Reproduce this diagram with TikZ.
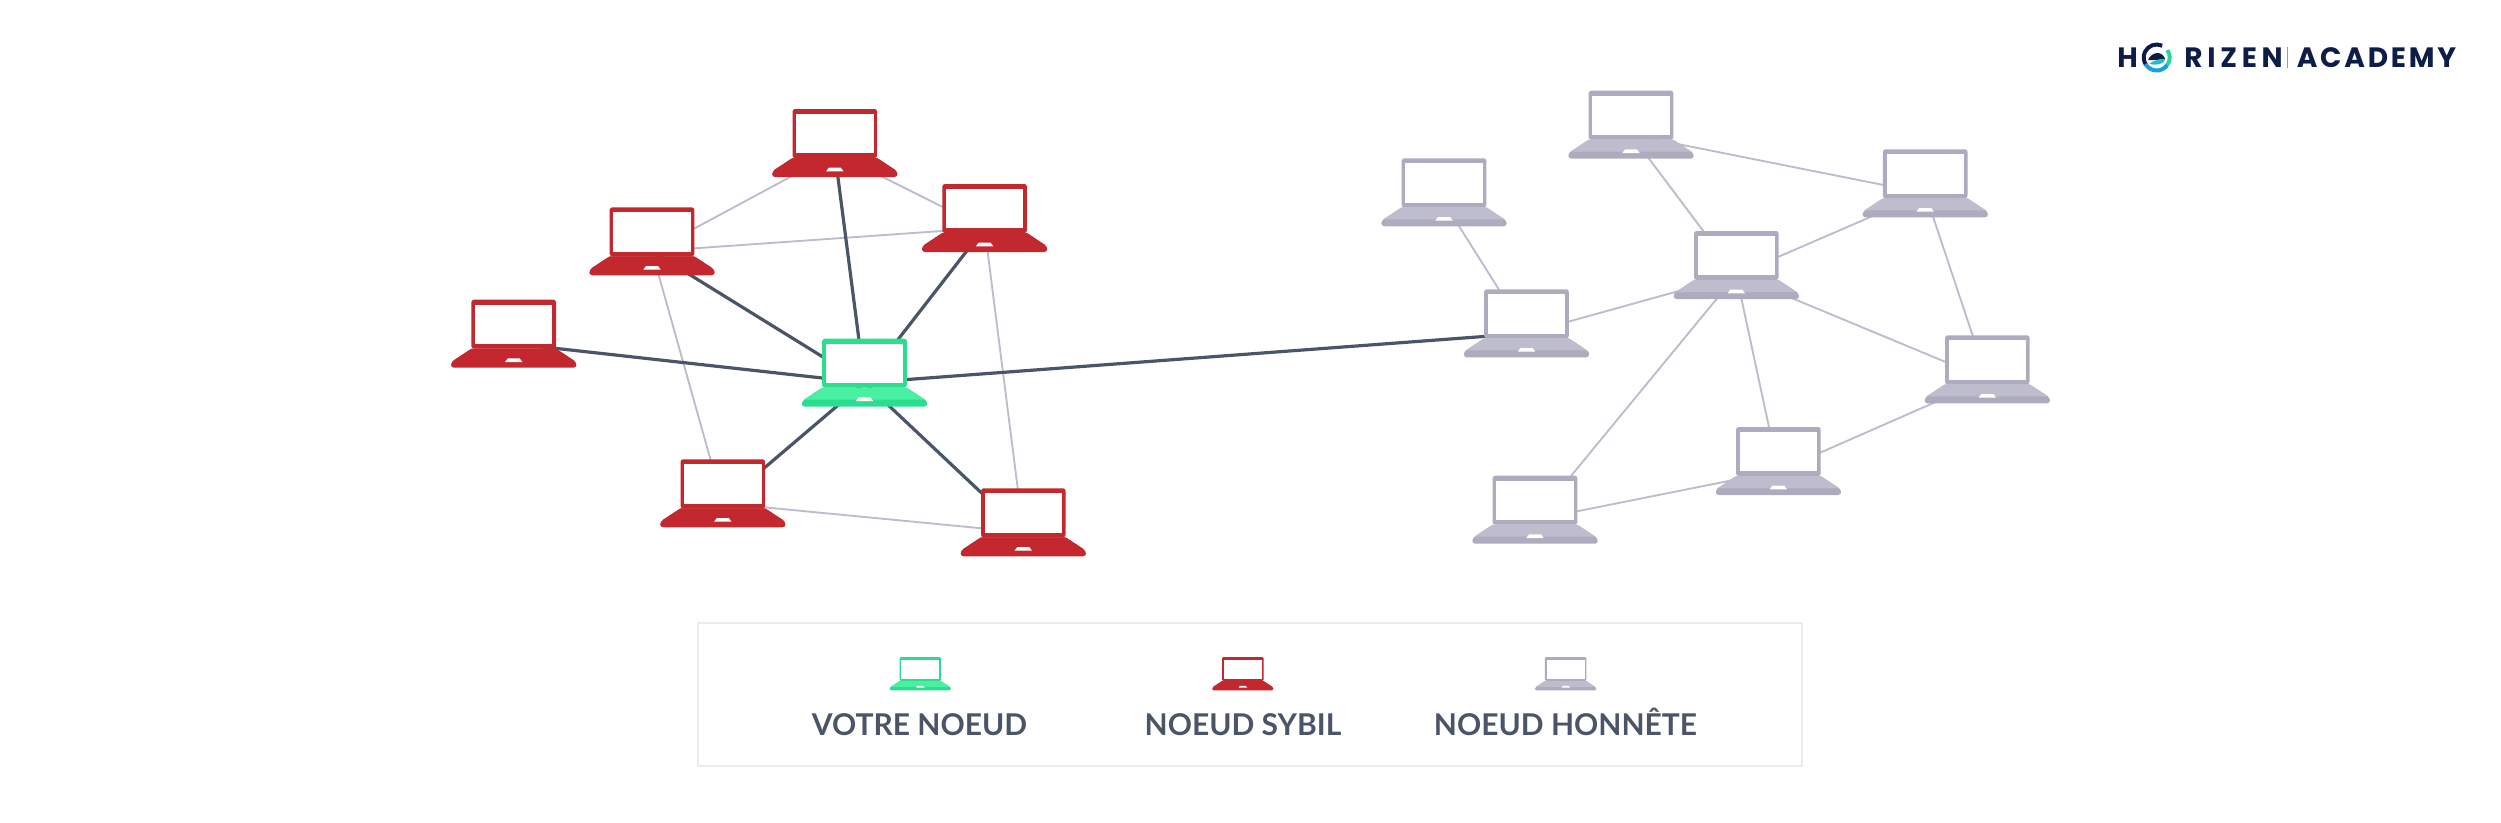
\documentclass[tikz,border=0pt]{standalone}
\usepackage{fontspec}
\usetikzlibrary{backgrounds,positioning}
\newfontfamily\legendfont{Lato}
\newfontfamily\logofont[LetterSpace=17]{Poppins}
\newfontfamily\academyfont[LetterSpace=10]{Poppins}
\definecolor{greenframe}{HTML}{2BDE8F}
\definecolor{greenbody}{HTML}{4AF0A2}
\definecolor{sybilred}{HTML}{C2282E}
\definecolor{grayframe}{HTML}{AEABBF}
\definecolor{graybody}{HTML}{BEBDCD}
\definecolor{grayline}{HTML}{BDBCCD}
\definecolor{darkline}{HTML}{4B5568}
\definecolor{legendbox}{HTML}{ECECEC}
\definecolor{logonavy}{HTML}{0E1C48}
\definecolor{logogreen}{HTML}{2CD3A0}
\definecolor{logoblue}{HTML}{14A0E0}
\definecolor{logoteal}{HTML}{1CC0C0}
\tikzset{
	hub/.style = {inner sep = 0, minimum width = 93.75pt, minimum height = 66pt},
	strong/.style = {darkline, line width = 2.4pt},
	weak/.style = {grayline, line width = 1.4pt},
	legendtext/.style = {text = darkline, font = \legendfont\bfseries\fontsize{22.5}{26}\selectfont, inner sep = 0, anchor = base},
	logotext/.style = {text = logonavy, anchor = base west, inner sep = 0}
}
\newcommand{\laptop}[5][1]{
	\begin{scope}[shift = {(#3)}, scale = #1]
		\fill[#4, rounded corners = #1*1.9pt] (-42.3,-44) rectangle (42.3,5);
		\fill[white] (-38.7,-39) rectangle (38.7,.3);
		\fill[#4, rounded corners = #1*2.2pt] (-42.3,5) -- (-62.7,18.5) -- (-62.7,24) -- (62.7,24) -- (62.7,18.5) -- (42.3,5) -- cycle;
		\fill[#5] (-42.3,5) -- (-60.5,17) -- (60.5,17) -- (42.3,5) -- cycle;
		\fill[white] (-6,14.7) -- (6,14.7) -- (8.7,18.3) -- (-8.7,18.3) -- cycle;
	\end{scope}
	\node[hub] (#2) at (#3) {};
}
\begin{document}
\begin{tikzpicture}[x = .75pt, y = -.75pt]
	            \useasboundingbox (0,0) rectangle (2501,822);
	            \laptop{you}{864.5,382.7}{greenframe}{greenbody}
	            \laptop{sybilA}{834.8,153}{sybilred}{sybilred}
	            \laptop{sybilB}{984.6,228}{sybilred}{sybilred}
	            \laptop{sybilC}{652,251.3}{sybilred}{sybilred}
	            \laptop{sybilD}{513.7,343.7}{sybilred}{sybilred}
	            \laptop{sybilE}{722.8,503.3}{sybilred}{sybilred}
	            \laptop{sybilF}{1023.3,532.3}{sybilred}{sybilred}
	            \laptop{honestA}{1631,134.7}{grayframe}{graybody}
	            \laptop{honestB}{1444,202.3}{grayframe}{graybody}
	            \laptop{honestC}{1526.5,333.3}{grayframe}{graybody}
	            \laptop{honestD}{1736.3,275}{grayframe}{graybody}
	            \laptop{honestE}{1925.2,193.3}{grayframe}{graybody}
	            \laptop{honestF}{1987.3,379.3}{grayframe}{graybody}
	            \laptop{honestG}{1778.4,471}{grayframe}{graybody}
	            \laptop{honestH}{1535,519.7}{grayframe}{graybody}
	            \begin{scope}[on background layer]
	            \draw[weak] (sybilA.center) -- (sybilC.center);
	            \draw[weak] (sybilA.center) -- (sybilB.center);
	            \draw[weak] (sybilC.center) -- (sybilB.center);
	            \draw[weak] (sybilC.center) -- (sybilE.center);
	            \draw[weak] (sybilB.center) -- (sybilF.center);
	            \draw[weak] (sybilE.center) -- (sybilF.center);
	            \draw[weak] (honestB.center) -- (honestC.center);
	            \draw[weak] (honestC.center) -- (honestD.center);
	            \draw[weak] (honestA.center) -- (honestD.center);
	            \draw[weak] (honestA.center) -- (honestE.center);
	            \draw[weak] (honestD.center) -- (honestE.center);
	            \draw[weak] (honestE.center) -- (honestF.center);
	            \draw[weak] (honestD.center) -- (honestF.center);
	            \draw[weak] (honestD.center) -- (honestG.center);
	            \draw[weak] (honestD.center) -- (honestH.center);
	            \draw[weak] (honestG.center) -- (honestF.center);
	            \draw[weak] (honestH.center) -- (honestG.center);
	            \draw[strong] (you.center) -- (sybilA.center);
	            \draw[strong] (you.center) -- (sybilB.center);
	            \draw[strong] (you.center) -- (sybilC.center);
	            \draw[strong] (you.center) -- (sybilD.center);
	            \draw[strong] (you.center) -- (sybilE.center);
	            \draw[strong] (you.center) -- (sybilF.center);
	            \draw[strong] (you.center) -- (honestC.center);
	            \end{scope}
	            \draw[legendbox, line width = 1.5pt] (698,623) rectangle (1802,766);
	            \laptop[.49]{keyYou}{920.3,678.6}{greenframe}{greenbody}
	            \laptop[.49]{keySybil}{1242.8,678.6}{sybilred}{sybilred}
	            \laptop[.49]{keyHonest}{1565.6,678.6}{grayframe}{graybody}
	            \node[legendtext] (labelYou) at (919.5,735) {VOTRE NOEUD};
	            \node[legendtext] (labelSybil) at (1243,735) {NOEUD SYBIL};
	            \node[legendtext] (labelHonest) at (1565.5,735) {NOEUD HONNÊTE};
	            \node[logotext, font = \logofont\bfseries\fontsize{21}{24}\selectfont] (logoH) at (2117,67.7) {H};
	            \node[logotext, font = \logofont\bfseries\fontsize{21}{24}\selectfont] (logoRizen) at (2184,67.7) {RIZEN};
	            \node[logotext, font = \academyfont\bfseries\fontsize{21}{24}\selectfont] (logoAcademy) at (2296.5,67.7) {ACADEMY};
	            \draw[logogreen, line width = .8pt] (2287.5,47) -- (2287.5,68);
	            \begin{scope}[shift = {(2156.7,57.5)}, yscale = -1]
	            \draw[logonavy, line width = 3pt] (65:13) arc (65:215:13);
	            \draw[logogreen, line width = 3pt] (35:13) arc (35:-35:13);
	            \draw[logoblue, line width = 3pt] (-35:13) arc (-35:-150:13);
	            \fill[logonavy] (-8.5,-2.5) .. controls (-6,5) and (5,8) .. (8.5,-1.5) .. controls (3,-2) and (-4,-3) .. (-8.5,-2.5) -- cycle;
	            \fill[logoteal] (-7,-6) .. controls (-3,-2.5) and (3,-2) .. (8.5,-1.5) .. controls (8,-6) and (0,-9) .. (-7,-6) -- cycle;
	            \end{scope}
 	       \end{tikzpicture}
\end{document}
